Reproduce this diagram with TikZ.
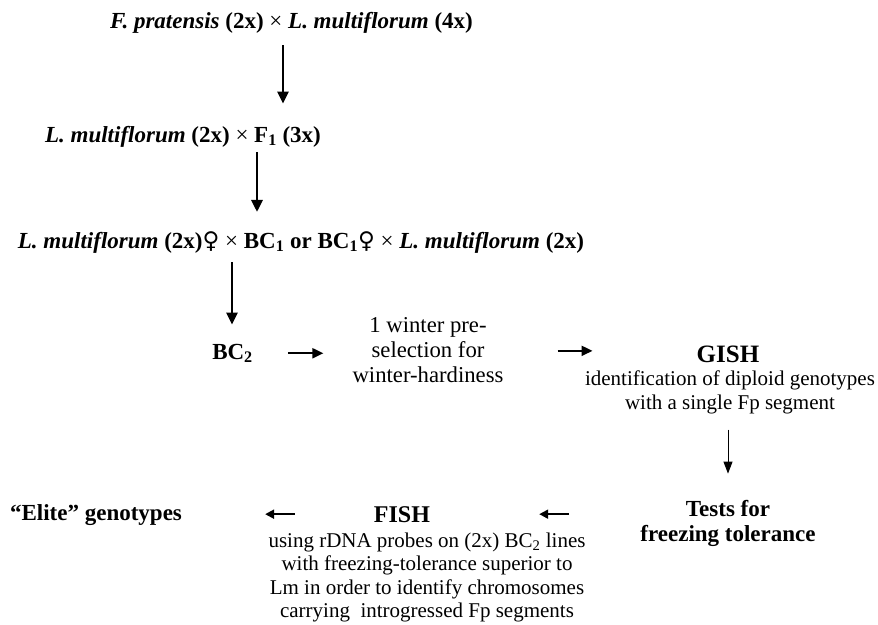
\documentclass[tikz,border=0pt]{standalone}
\usepackage{fontspec}
\setmainfont{Liberation Serif}
\newfontfamily\symfont{DejaVu Sans}
\usetikzlibrary{arrows.meta,positioning,calc}
\newcommand{\fem}{{\symfont\mdseries ♀}}
\newcommand{\cross}{{\mdseries\upshape ×}}

\begin{document}
\begin{tikzpicture}[
    x=1pt, y=-1pt,
    stage/.style={inner sep=0pt, anchor=base, font=\fontsize{23}{25}\selectfont\bfseries},
    head/.style={stage, font=\fontsize{24}{25}\selectfont\bfseries},
    note/.style={inner sep=0pt, anchor=base, align=center, font=\fontsize{21}{23.5}\selectfont},
    bigarrow/.style={-{Triangle[length=12pt,width=11pt]}, line width=2.8pt},
    arrow/.style={-{Triangle[length=11pt,width=10pt]}, line width=2pt},
    backarrow/.style={-{Triangle[length=9pt,width=9pt]}, line width=2pt},
    thinarrow/.style={-{Triangle[length=12pt,width=9pt]}, line width=1pt}
]
    \useasboundingbox (0,0) rectangle (878,624);

    % crosses
    \node[stage] (parents) at (291.5,28) {\itshape F. pratensis\/ \upshape(2x) \cross{} \itshape L. multiflorum\/ \upshape(4x)};
    \node[stage] (f1cross) at (183,142) {\itshape L. multiflorum\/ \upshape(2x) \cross{} F\textsubscript{1} (3x)};
    \node[stage] (bccross) at (301,248) {\itshape L. multiflorum\/ \upshape(2x)\fem{} \cross{} BC\textsubscript{1} or BC\textsubscript{1}\fem{} \cross{} \itshape L. multiflorum\/ \upshape(2x)};

    % selection steps (multi-line nodes sit on their last baseline)
    \node[stage] (bc2) at (232.5,359) {BC\textsubscript{2}};
    \node[note, font=\fontsize{22.7}{25}\selectfont] (winter) at (428,382) {1 winter pre-\\selection for\\winter-hardiness};
    \node[head, font=\fontsize{25}{25}\selectfont\bfseries] (gish) at (728,362) {GISH};
    \node[note] (gishtext) at (730,409) {identification of diploid genotypes\\with a single Fp segment};
    \node[stage, align=center] (tests) at (728,541) {Tests for\\freezing tolerance};
    \node[head] (fish) at (402,522) {FISH};
    \node[note] (fishtext) at (427,617.5) {using rDNA probes on (2x) BC\textsubscript{2} lines\\with freezing-tolerance superior to\\Lm in order to identify chromosomes\\carrying\ \ introgressed Fp segments};
    \node[stage] (elite) at (96,520) {“Elite” genotypes};

    \draw[bigarrow, shorten <=12pt, shorten >=22pt] ([xshift=-8.5pt]parents.south) -- ([xshift=-8.5pt]parents.south |- f1cross.north);
    \draw[bigarrow, shorten <=5pt, shorten >=19pt] ([xshift=74pt]f1cross.south) -- ([xshift=74pt]f1cross.south |- bccross.north);
    \draw[bigarrow, shorten <=9pt, shorten >=19pt] ([xshift=-69pt]bccross.south) -- ([xshift=-69pt]bccross.south |- bc2.north);
    \draw[arrow, shorten <=35pt, shorten >=29pt] (bc2.east) -- (bc2.east -| winter.west);
    \draw[arrow, shorten <=54pt, shorten >=104pt] ([yshift=3pt]gish.west -| winter.east) -- ([yshift=3pt]gish.west);
    \draw[thinarrow, shorten <=16pt, shorten >=26pt] ([xshift=-2pt]gishtext.south) -- ([xshift=-2pt]gishtext.south |- tests.north);
    \draw[backarrow, shorten <=71pt, shorten >=109pt] (fish.east -| tests.west) -- (fish.east);
    \draw[backarrow, shorten <=79pt, shorten >=83pt] (fish.west) -- (fish.west -| elite.east);
\end{tikzpicture}
\end{document}
